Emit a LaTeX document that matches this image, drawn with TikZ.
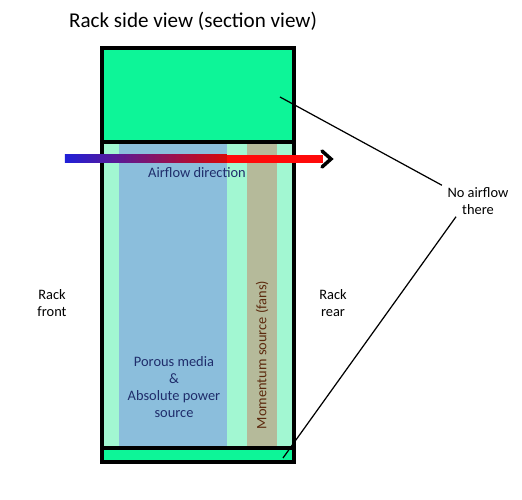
\documentclass[tikz,border=0pt]{standalone}
\usepackage{fontspec}
\setmainfont{Carlito}
\usetikzlibrary{arrows.meta,positioning,calc}
\definecolor{rackgreen}{HTML}{0DF598}
\definecolor{mint}{HTML}{A2F7D2}
\definecolor{porous}{HTML}{8BBEDC}
\definecolor{fanzone}{HTML}{B5BA9A}
\definecolor{navytext}{HTML}{1F2D6B}
\definecolor{browntext}{HTML}{5C2A0E}
\definecolor{flowblue}{HTML}{2020D8}
\definecolor{flowred}{HTML}{FF0A0A}
\tikzset{
  rackbox/.style={draw=black, line width=2.2pt, fill=rackgreen},
  zone/.style={draw=none},
  lbl/.style={align=center, font=\fontsize{8.2}{9.8}\selectfont, inner sep=1pt},
  pointer/.style={draw=black, line width=0.7pt}
}

\begin{document}
\begin{tikzpicture}[x=0.02cm, y=-0.02cm]
    \useasboundingbox (0,0) rectangle (522,500);
    % rack interior
    \fill[mint] (103,142) rectangle (293,448);
    \fill[porous] (119,143) rectangle (227,448);
    \fill[fanzone] (247,143) rectangle (277,448);
    \draw[rackbox] (102,48) rectangle (294,142);
    \draw[rackbox] (102,448) rectangle (294,462);
    \draw[draw=black, line width=2.2pt] (102,142) rectangle (294,462);
    % airflow arrow
    \shade[left color=flowblue, right color=flowred!85!black] (65,155) rectangle (227,163);
    \fill[flowred] (227,155) rectangle (323,163);
    \draw[line width=2pt, line cap=round] (322,151) -- (331,159) -- (322,167);
    % labels
    \node[font=\fontsize{12}{14}\selectfont] (title) at (193,21) {Rack side view (section view)};
    \node[lbl, text=navytext] (flow) at (197,173) {Airflow direction};
    \node[lbl, text=navytext] (media) at (174,387) {Porous media\\\&\\Absolute power\\source};
    \node[lbl, text=browntext, rotate=90] (fans) at (262,355) {Momentum source (fans)};
    \node[lbl] (front) at (52,303) {Rack\\front};
    \node[lbl] (rear) at (333,303) {Rack\\rear};
    \node[lbl] (none) at (478,201) {No airflow\\there};
    \coordinate (topzone) at (280,97);
    \coordinate (botzone) at (283,458);
    \draw[pointer] (topzone) -- ([xshift=-2pt]none.north west);
    \draw[pointer] (botzone) -- ([xshift=6pt]none.south west);
  \end{tikzpicture}
\end{document}
